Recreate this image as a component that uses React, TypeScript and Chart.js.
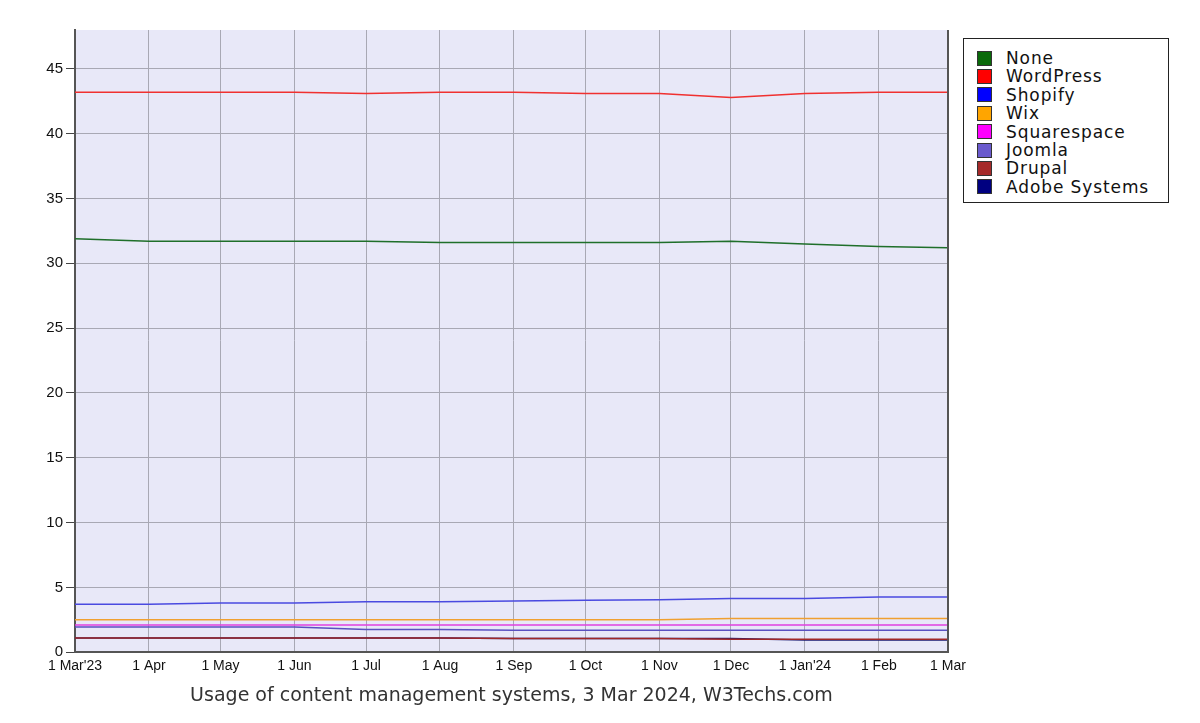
import React, { useEffect, useRef } from 'react';
import { Chart, registerables } from 'chart.js';

Chart.register(...registerables);

const monthLabels = ["1 Mar'23", '1 Apr', '1 May', '1 Jun', '1 Jul', '1 Aug', '1 Sep', '1 Oct', '1 Nov', '1 Dec', "1 Jan'24", '1 Feb', '1 Mar'];
const dayOffsets = [0, 31, 61, 92, 122, 153, 184, 214, 245, 275, 306, 337, 366];
const yTickValues = [0, 5, 10, 15, 20, 25, 30, 35, 40, 45];

const seriesNames = ['None', 'WordPress', 'Shopify', 'Wix', 'Squarespace', 'Joomla', 'Drupal', 'Adobe Systems'];
const seriesColors = ['#0a6a0a', '#ff0000', '#0000ff', '#ffa500', '#ff00ff', '#6a5acd', '#a52a2a', '#000080'];
const lineColors = ['#1f6f2a', '#f03030', '#4a4ae0', '#f0a030', '#e040e0', '#5a50c0', '#a02828', '#1a1a70'];

const noneValues = [31.9, 31.7, 31.7, 31.7, 31.7, 31.6, 31.6, 31.6, 31.6, 31.7, 31.5, 31.3, 31.2];
const wordpressValues = [43.2, 43.2, 43.2, 43.2, 43.1, 43.2, 43.2, 43.1, 43.1, 42.8, 43.1, 43.2, 43.2];
const shopifyValues = [3.7, 3.7, 3.8, 3.8, 3.9, 3.9, 3.95, 4.0, 4.05, 4.15, 4.15, 4.25, 4.25];
const wixValues = [2.5, 2.5, 2.5, 2.5, 2.5, 2.5, 2.5, 2.5, 2.5, 2.6, 2.6, 2.6, 2.6];
const squarespaceValues = [2.1, 2.1, 2.1, 2.1, 2.1, 2.1, 2.1, 2.1, 2.1, 2.1, 2.1, 2.1, 2.1];
const joomlaValues = [1.95, 1.95, 1.95, 1.95, 1.75, 1.75, 1.7, 1.7, 1.7, 1.7, 1.7, 1.7, 1.7];
const drupalValues = [1.1, 1.1, 1.1, 1.1, 1.1, 1.1, 1.05, 1.05, 1.05, 1.0, 1.0, 1.0, 1.0];
const adobeValues = [1.1, 1.1, 1.1, 1.1, 1.1, 1.1, 1.05, 1.05, 1.05, 1.05, 0.95, 0.95, 0.95];

const seriesValues = [noneValues, wordpressValues, shopifyValues, wixValues, squarespaceValues, joomlaValues, drupalValues, adobeValues];

const plotBackground = {
  id: 'plotBackground',
  beforeDraw(chart: any) {
    const { ctx, chartArea } = chart;
    ctx.save();
    ctx.fillStyle = '#e8e8f8';
    ctx.fillRect(chartArea.left, chartArea.top, chartArea.right - chartArea.left, chartArea.bottom - chartArea.top);
    ctx.restore();
  },
  afterDraw(chart: any) {
    const { ctx, chartArea } = chart;
    ctx.save();
    ctx.strokeStyle = '#555';
    ctx.lineWidth = 2;
    ctx.beginPath();
    ctx.moveTo(chartArea.right, chartArea.top);
    ctx.lineTo(chartArea.right, chartArea.bottom);
    ctx.stroke();
    ctx.restore();
  },
};

export default function App() {
  const canvasRef = useRef<HTMLCanvasElement | null>(null);

  useEffect(() => {
    if (!canvasRef.current) return;
    const datasets = seriesNames.map((name, i) => ({
      label: name,
      data: dayOffsets.map((d, j) => ({ x: d, y: seriesValues[i][j] })),
      borderColor: lineColors[i],
      backgroundColor: seriesColors[i],
      borderWidth: 1.5,
      pointRadius: 0,
      tension: 0,
      fill: false,
    }));
    const chart = new Chart(canvasRef.current, {
      type: 'line',
      data: { datasets },
      plugins: [plotBackground],
      options: {
        responsive: false,
        animation: false,
        layout: { padding: { left: 8, right: 252, top: 30, bottom: 16 } },
        plugins: {
          legend: { display: false },
          tooltip: { enabled: false },
          title: {
            display: true,
            position: 'bottom',
            fullSize: false,
            text: 'Usage of content management systems, 3 Mar 2024, W3Techs.com',
            color: '#333',
            font: { family: 'DejaVu Sans', size: 19, weight: 'normal' },
            padding: { top: 2, bottom: 0 },
          },
        },
        scales: {
          x: {
            type: 'linear',
            min: 0,
            max: 366,
            afterBuildTicks: (scale: any) => {
              scale.ticks = dayOffsets.map((v) => ({ value: v }));
            },
            afterFit: (scale: any) => {
              scale.height = 30;
            },
            ticks: {
              autoSkip: false,
              maxRotation: 0,
              color: '#111',
              padding: 6,
              font: { family: 'Liberation Sans', size: 14 },
              callback: (value: any) => {
                const idx = dayOffsets.indexOf(Number(value));
                return idx >= 0 ? monthLabels[idx] : '';
              },
            },
            grid: { color: '#a8a8b4', lineWidth: 1, drawTicks: false },
            border: { display: true, color: '#555', width: 2 },
          },
          y: {
            min: 0,
            max: 48,
            afterBuildTicks: (scale: any) => {
              scale.ticks = yTickValues.map((v) => ({ value: v }));
            },
            afterFit: (scale: any) => {
              scale.width = 67;
            },
            ticks: {
              color: '#111',
              padding: 3,
              font: { family: 'Liberation Sans', size: 15 },
            },
            grid: { color: '#a8a8b4', lineWidth: 1, tickLength: 9, tickColor: '#444' },
            border: { display: true, color: '#555', width: 2 },
          },
        },
      },
    });
    return () => chart.destroy();
  }, []);

  return (
    <div style={{ position: 'fixed', left: 0, top: 0, width: 1200, height: 723, background: '#fff' }}>
      <canvas ref={canvasRef} width={1200} height={723} style={{ display: 'block' }} />
      <div
        style={{
          position: 'absolute',
          left: 963,
          top: 38,
          width: 204,
          height: 163,
          border: '1px solid #222',
          background: '#fff',
          boxSizing: 'content-box',
          fontFamily: 'DejaVu Sans',
          fontSize: 17,
          color: '#111',
        }}
      >
        <div style={{ paddingTop: 10 }}>
          {seriesNames.map((name, i) => (
            <div key={name} style={{ display: 'flex', alignItems: 'center', height: 18.4, lineHeight: '18.4px' }}>
              <span
                style={{
                  display: 'inline-block',
                  width: 13,
                  height: 13,
                  marginLeft: 13,
                  marginRight: 14,
                  background: seriesColors[i],
                  border: '1px solid #333',
                }}
              />
              <span style={{ whiteSpace: 'nowrap', letterSpacing: '0.9px' }}>{name}</span>
            </div>
          ))}
        </div>
      </div>
    </div>
  );
}
